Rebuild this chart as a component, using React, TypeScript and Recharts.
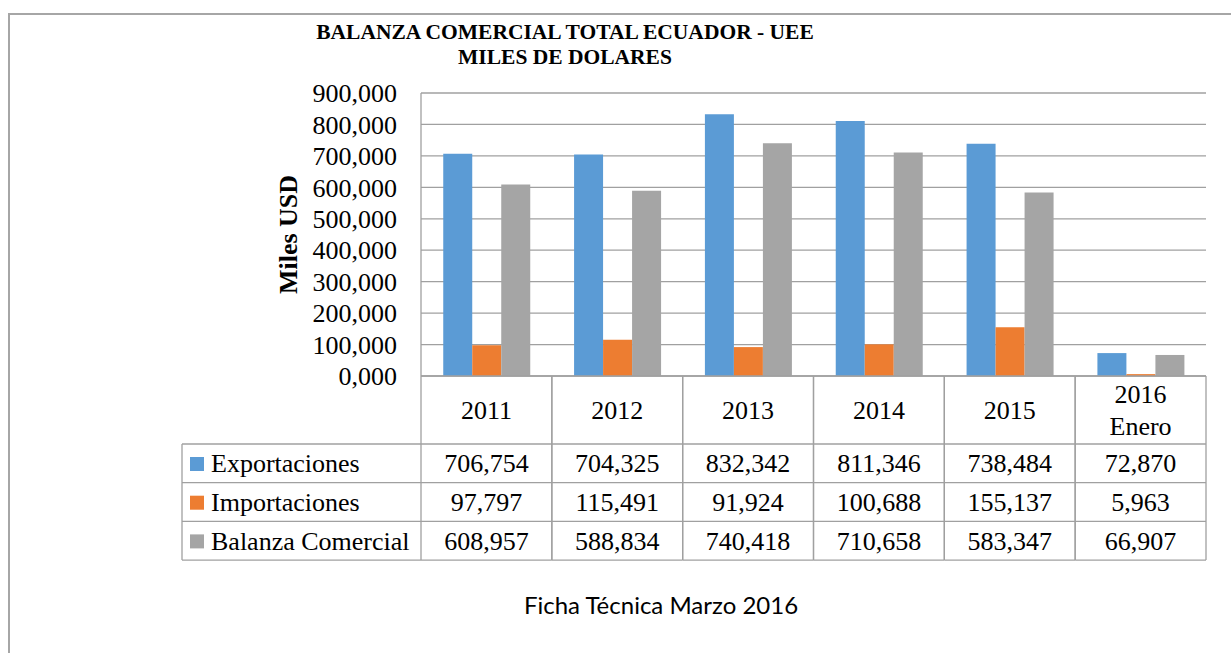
import { BarChart, Bar, XAxis, YAxis, CartesianGrid } from 'recharts';

const categories = ['2011', '2012', '2013', '2014', '2015', '2016 Enero'];
const exportaciones = [706.754, 704.325, 832.342, 811.346, 738.484, 72.87];
const importaciones = [97.797, 115.491, 91.924, 100.688, 155.137, 5.963];
const balanza = [608.957, 588.834, 740.418, 710.658, 583.347, 66.907];
const yTicks = [0, 100, 200, 300, 400, 500, 600, 700, 800, 900];

const seriesList = [
  { key: 'exportaciones', name: 'Exportaciones', color: '#5B9BD5', values: exportaciones },
  { key: 'importaciones', name: 'Importaciones', color: '#ED7D31', values: importaciones },
  { key: 'balanza', name: 'Balanza Comercial', color: '#A5A5A5', values: balanza },
];

const data = categories.map((cat, i) => ({
  category: cat,
  exportaciones: exportaciones[i],
  importaciones: importaciones[i],
  balanza: balanza[i],
}));

const W = 1231;
const H = 653;
const PLOT_LEFT = 421;
const PLOT_TOP = 93;
const PLOT_RIGHT = 1206;
const PLOT_BOTTOM = 376;
const Y_AXIS_W = 110;
const X_AXIS_H = 200;
const BAND = (PLOT_RIGHT - PLOT_LEFT) / categories.length;
const TABLE_LEFT = 182;
const HEADER_H = 68;
const ROW_H = 38.7;
const LINE = '#A0A0A0';
const FONT = '"Liberation Serif", "Times New Roman", serif';

// miles -> "706,754"
function fmt(v: number): string {
  return v.toFixed(3).replace('.', ',');
}

function TableTick(props: any) {
  const { x, y, payload } = props;
  const index: number = payload.index;
  const left = x - BAND / 2;
  const right = x + BAND / 2;
  const top = y;
  const rowsTop = top + HEADER_H;
  const bottom = rowsTop + ROW_H * seriesList.length;
  const lines = String(payload.value).split(' ');
  const rowYs = [0, 1, 2, 3].map((i) => rowsTop + i * ROW_H);

  return (
    <g fontFamily={FONT} fontSize={26} fill="#000">
      {index === 0 && (
        <g>
          <line x1={TABLE_LEFT} y1={rowsTop} x2={TABLE_LEFT} y2={bottom} stroke={LINE} strokeWidth={1.3} />
          {rowYs.map((ry, i) => (
            <line key={i} x1={TABLE_LEFT} y1={ry} x2={left} y2={ry} stroke={LINE} strokeWidth={1.3} />
          ))}
          {seriesList.map((s, i) => (
            <g key={s.key}>
              <rect x={TABLE_LEFT + 8} y={rowsTop + i * ROW_H + 13} width={14} height={14} fill={s.color} />
              <text x={TABLE_LEFT + 29} y={rowsTop + i * ROW_H + ROW_H / 2} dy="0.35em" fill="#000">
                {s.name}
              </text>
            </g>
          ))}
        </g>
      )}
      <line x1={left} y1={top} x2={left} y2={bottom} stroke={LINE} strokeWidth={1.3} />
      <line x1={right} y1={top} x2={right} y2={bottom} stroke={LINE} strokeWidth={1.3} />
      {rowYs.map((ry, i) => (
        <line key={i} x1={left} y1={ry} x2={right} y2={ry} stroke={LINE} strokeWidth={1.3} />
      ))}
      {lines.map((l, i) => (
        <text
          key={i}
          x={x}
          y={top + HEADER_H / 2 + (i - (lines.length - 1) / 2) * 32}
          dy="0.35em"
          textAnchor="middle"
          fill="#000"
        >
          {l}
        </text>
      ))}
      {seriesList.map((s, i) => (
        <text
          key={s.key}
          x={x}
          y={rowsTop + i * ROW_H + ROW_H / 2}
          dy="0.35em"
          textAnchor="middle"
          fill="#000"
        >
          {fmt(s.values[index])}
        </text>
      ))}
    </g>
  );
}

export default function App() {
  return (
    <div
      style={{
        position: 'absolute',
        left: 0,
        top: 0,
        width: W,
        height: H,
        overflow: 'hidden',
        background: '#fff',
      }}
    >
      <div
        style={{
          position: 'absolute',
          left: 8,
          top: 13,
          width: 1400,
          height: 800,
          borderTop: '2px solid #A6A6A6',
          borderLeft: '2px solid #A6A6A6',
        }}
      />
      <div
        style={{
          position: 'absolute',
          left: 265,
          top: 20,
          width: 600,
          textAlign: 'center',
          fontFamily: FONT,
          fontWeight: 'bold',
          fontSize: 21.5,
          lineHeight: '25px',
        }}
      >
        BALANZA COMERCIAL TOTAL ECUADOR - UEE
        <br />
        MILES DE DOLARES
      </div>
      <div style={{ position: 'absolute', left: 0, top: 0 }}>
        <BarChart
          width={W}
          height={H}
          data={data}
          barCategoryGap="17%"
          barGap={0}
          margin={{
            top: PLOT_TOP,
            right: W - PLOT_RIGHT,
            left: PLOT_LEFT - Y_AXIS_W,
            bottom: H - PLOT_BOTTOM - X_AXIS_H,
          }}
        >
          <CartesianGrid vertical={false} stroke={LINE} strokeWidth={1.3} />
          <XAxis
            dataKey="category"
            height={X_AXIS_H}
            interval={0}
            tickLine={false}
            tickSize={0}
            tickMargin={0}
            axisLine={{ stroke: LINE, strokeWidth: 1.3 }}
            tick={(p: any) => <TableTick {...p} />}
          />
          <YAxis
            width={Y_AXIS_W}
            domain={[0, 900]}
            ticks={yTicks}
            interval={0}
            tickFormatter={fmt}
            tickLine={false}
            tickMargin={18}
            axisLine={{ stroke: LINE, strokeWidth: 1.3 }}
            tick={{ fill: '#000', fontFamily: FONT, fontSize: 26 }}
            label={{
              content: ({ viewBox }: any) => {
                const cx = viewBox.x - 23;
                const cy = viewBox.y + viewBox.height / 2;
                return (
                  <text
                    x={cx}
                    y={cy}
                    transform={`rotate(-90, ${cx}, ${cy})`}
                    textAnchor="middle"
                    dy="0.35em"
                    fontFamily={FONT}
                    fontWeight="bold"
                    fontSize={26}
                    fill="#000"
                  >
                    Miles USD
                  </text>
                );
              },
            }}
          />
          {seriesList.map((s) => (
            <Bar key={s.key} dataKey={s.key} name={s.name} fill={s.color} isAnimationActive={false} />
          ))}
        </BarChart>
      </div>
      <div
        style={{
          position: 'absolute',
          left: 461,
          top: 590,
          width: 400,
          textAlign: 'center',
          fontFamily: 'Lato, "Open Sans", sans-serif',
          fontSize: 24,
          lineHeight: '30px',
          color: '#000',
        }}
      >
        Ficha Técnica Marzo 2016
      </div>
    </div>
  );
}
